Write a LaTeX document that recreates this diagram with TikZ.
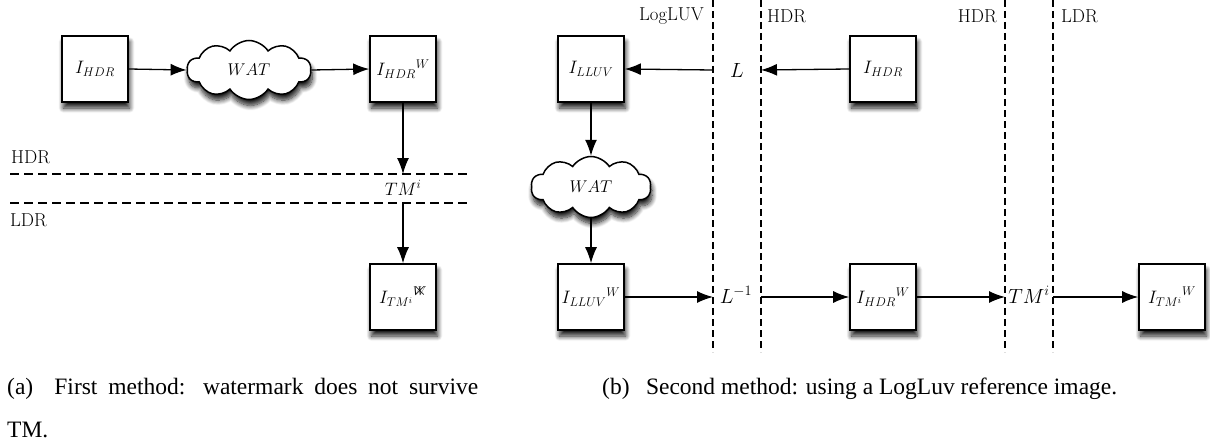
\RequirePackage{fix-cm}
\documentclass[tikz,border=0pt]{standalone}
\usepackage{fontspec}
\newfontfamily\capfont{Liberation Serif}
\usetikzlibrary{arrows.meta,shapes.symbols,shadows.blur}
\tikzset{
  myshadow/.style={blur shadow={shadow xshift=1.5pt, shadow yshift=-6pt, shadow blur radius=5pt, shadow blur steps=10, shadow opacity=90}},
  imgbox/.style={draw, line width=1.6pt, fill=white, minimum size=66pt, inner sep=0pt,
    font=\fontsize{18}{20}\selectfont, myshadow},
  wat/.style={draw, line width=1.5pt, fill=white, shape=cloud, cloud puffs=10, cloud puff arc=115,
    aspect=2, inner sep=0pt, font=\fontsize{17}{19}\selectfont, myshadow},
  arr/.style={line width=1.3pt, -{Latex[length=16pt,width=12pt]}},
  zone/.style={font=\fontsize{18.7}{20}\selectfont, inner sep=0pt},
  oplab/.style={font=\fontsize{18}{20}\selectfont, inner sep=0pt},
  bigop/.style={font=\fontsize{20.5}{22}\selectfont, inner sep=0pt},
  hdash/.style={line width=1.3pt, dash pattern=on 9pt off 5pt},
  vdash/.style={line width=1.2pt, dash pattern=on 7pt off 4pt},
  captext/.style={font=\capfont\fontsize{23.5}{26}\selectfont, inner sep=0pt}
}
\begin{document}
\begin{tikzpicture}[x=1pt,y=-1pt]
\useasboundingbox (0,0) rectangle (1210,444);

% ---------- panel (a) ----------
\node[imgbox] (A) at (95,69) {$I_{HDR}$};
\node[wat, minimum width=124pt, minimum height=59pt] (C1) at (249,70) {$WAT$};
\node[imgbox] (B) at (403,69) {${I_{HDR}}^{W}$};
\node[imgbox] (C) at (403,297) {${I_{TM^i}}^{\mbox{\ooalign{$\scriptstyle W$\cr\hidewidth$\textstyle\times$\hidewidth\cr}}}$};

\draw[hdash] (10,174) -- (467,174);
\draw[hdash] (10,203) -- (467,203);
\node[zone, anchor=west] (hdrA) at (11,157) {HDR};
\node[zone, anchor=west] (ldrA) at (10,220) {LDR};
\node[oplab] (tmA) at (403,188) {$TM^i$};
\coordinate (h1) at (403,174);
\coordinate (h2) at (403,203);

\draw[arr] (A.east) -- (C1.west);
\draw[arr] (C1.east) -- (B.west);
\draw[arr] (B.south) -- (h1);
\draw[arr] (h2) -- (C.north);

% ---------- panel (b) ----------
\foreach \x in {713,761,1005,1053} \draw[vdash] (\x,0) -- (\x,352);
\node[zone, anchor=east] (logluv) at (704,16) {LogLUV};
\node[zone, anchor=west] (hdrB1) at (767,16) {HDR};
\node[zone, anchor=east] (hdrB2) at (997,16) {HDR};
\node[zone, anchor=west] (ldrB) at (1061,16) {LDR};

\node[imgbox] (D) at (591,69) {$I_{LLUV}$};
\node[imgbox] (E) at (883,69) {$I_{HDR}$};
\node[wat, minimum width=120pt, minimum height=61pt] (C2) at (591,187) {$WAT$};
\node[imgbox] (F) at (591,297) {${I_{LLUV}}^{W}$};
\node[imgbox] (G) at (883,297) {${I_{HDR}}^{W}$};
\node[imgbox] (H) at (1172,297) {${I_{TM^i}}^{W}$};

\node[bigop] (Lop) at (737,70) {$L$};
\node[bigop] (Linv) at (736,295) {$L^{-1}$};
\node[bigop] (TMop) at (1029,295) {$TM^i$};

\coordinate (v1t) at (713,70);
\coordinate (v2t) at (761,70);
\coordinate (v1b) at (713,297);
\coordinate (v2b) at (761,297);
\coordinate (v3b) at (1005,297);
\coordinate (v4b) at (1053,297);

\draw[arr] (v1t) -- (D.east);
\draw[arr] (E.west) -- (v2t);
\draw[arr] (D.south) -- (C2.north);
\draw[arr] (C2.south) -- (F.north);
\draw[arr] (F.east) -- (v1b);
\draw[arr] (v2b) -- (G.west);
\draw[arr] (G.east) -- (v3b);
\draw[arr] (v4b) -- (H.west);

% ---------- captions ----------
\node[captext, anchor=base west] (capA) at (7,394) {\makebox[471pt][s]{(a)\hspace{0.9em}First method: watermark does not survive}};
\node[captext, anchor=base west] (capA2) at (7,437) {TM.};
\node[captext, anchor=base west] (capB) at (602,394) {(b)\hspace{0.7em}Second method: using a LogLuv reference image.};
\end{tikzpicture}
\end{document}
